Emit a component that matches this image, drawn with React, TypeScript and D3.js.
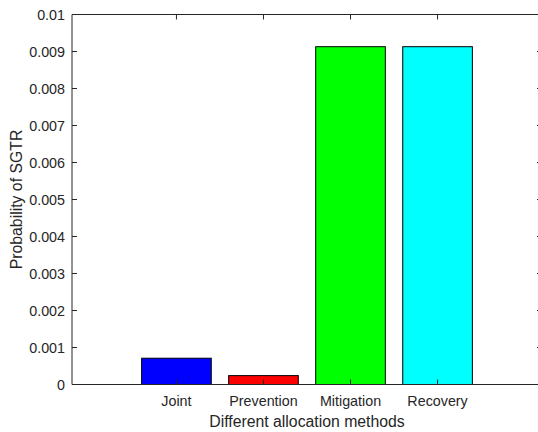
import React from "react";
import * as d3 from "d3";

const categories = ["Joint", "Prevention", "Mitigation", "Recovery"];
const values = [0.00071, 0.00024, 0.00913, 0.00913];
const colors = ["#0000ff", "#ff0000", "#00ff00", "#00ffff"];
const yTicks = [0, 0.001, 0.002, 0.003, 0.004, 0.005, 0.006, 0.007, 0.008, 0.009, 0.01];
const yTickLabels = ["0", "0.001", "0.002", "0.003", "0.004", "0.005", "0.006", "0.007", "0.008", "0.009", "0.01"];

export default function App() {
  const W = 538, H = 432;
  const left = 72, right = 542, top = 14.5, bottom = 384.5;
  const x = d3.scaleLinear().domain([-0.2, 5.2]).range([left, right]);
  const y = d3.scaleLinear().domain([0, 0.01]).range([bottom, top]);
  const bw = (x(1) - x(0)) * 0.8;
  const font = "'Liberation Sans', Arial, sans-serif";
  const axisColor = "#262626";
  const tl = 5;
  return (
    <svg width={W} height={H} style={{ position: "absolute", left: 0, top: 0 }} fontFamily={font}>
      <rect x={0} y={0} width={W} height={H} fill="#fff" />
      {values.map((v, i) => (
        <rect key={i} x={x(i + 1) - bw / 2} y={y(v)} width={bw} height={y(0) - y(v)}
          fill={colors[i]} stroke="#000" strokeWidth={1} />
      ))}
      <g stroke={axisColor} strokeWidth={1} fill="none">
        <line x1={left} y1={top} x2={right} y2={top} />
        <line x1={left} y1={bottom} x2={right} y2={bottom} />
        <line x1={left} y1={top} x2={left} y2={bottom} />
        <line x1={right} y1={top} x2={right} y2={bottom} />
        {yTicks.map((t, i) => (
          <g key={i}>
            <line x1={left} x2={left + tl} y1={y(t)} y2={y(t)} />
            <line x1={right} x2={right - tl} y1={y(t)} y2={y(t)} />
          </g>
        ))}
        {categories.map((c, i) => (
          <g key={c}>
            <line x1={x(i + 1)} x2={x(i + 1)} y1={bottom} y2={bottom - tl} />
            <line x1={x(i + 1)} x2={x(i + 1)} y1={top} y2={top + tl} />
          </g>
        ))}
      </g>
      {yTicks.map((t, i) => (
        <text key={i} x={left - 7} y={y(t)} dy="0.35em" textAnchor="end" fontSize={14.3} fill={axisColor}>
          {yTickLabels[i]}
        </text>
      ))}
      {categories.map((c, i) => (
        <text key={c} x={x(i + 1)} y={bottom + 16} dy="0.35em" textAnchor="middle" fontSize={14.3} fill={axisColor}>
          {c}
        </text>
      ))}
      <text x={307} y={421} dy="0.35em" textAnchor="middle" fontSize={15.8} fill={axisColor}>
        Different allocation methods
      </text>
      <text transform={`translate(16,${(top + bottom) / 2}) rotate(-90)`} dy="0.35em" textAnchor="middle" fontSize={15.8} fill={axisColor}>
        Probability of SGTR
      </text>
    </svg>
  );
}
